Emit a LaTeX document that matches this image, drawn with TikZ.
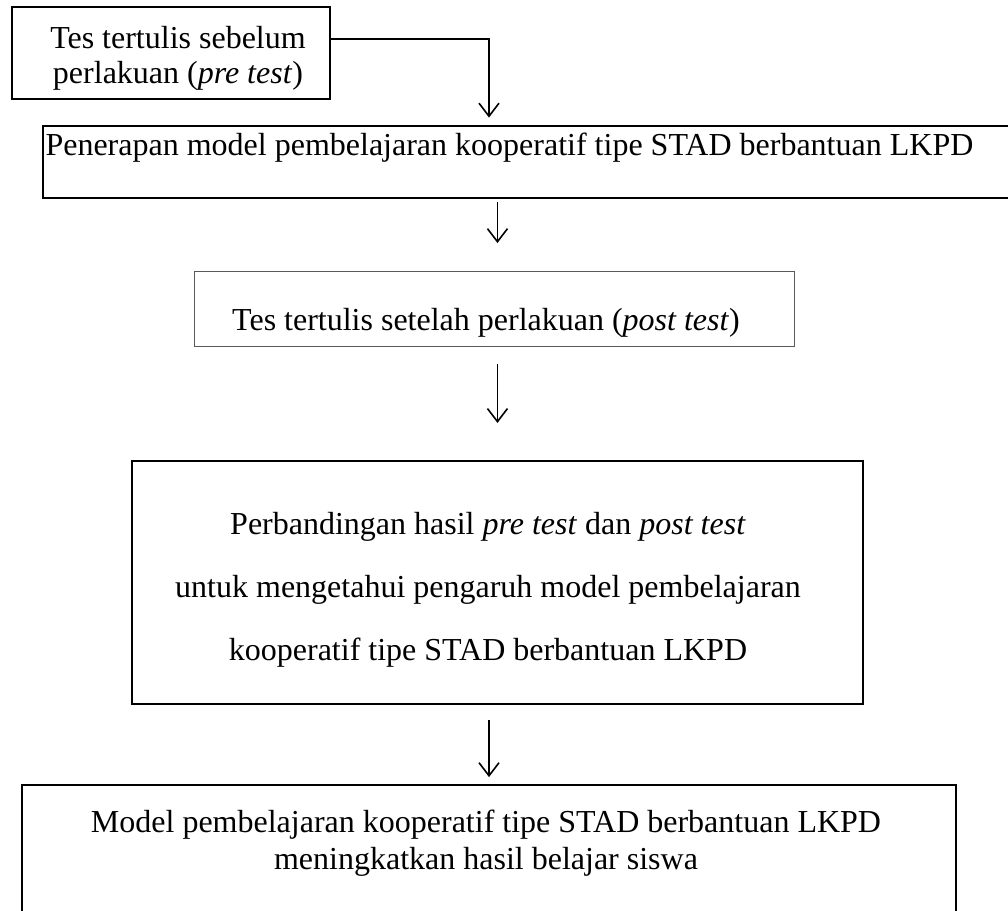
\documentclass[tikz,border=0pt]{standalone}
\usepackage{fontspec}
\setmainfont{Liberation Serif}
\usetikzlibrary{arrows.meta,positioning,calc}

\begin{document}
\begin{tikzpicture}[x=0.375pt,y=-0.375pt,
  box/.style={draw=black,line width=0.75pt,inner sep=0pt,anchor=north west},
  thinbox/.style={draw=black!65,line width=0.4pt,inner sep=0pt,anchor=north west},
  txt/.style={font=\fontsize{12}{13.1}\selectfont,align=center,inner sep=0pt},
  arr/.style={line width=0.6pt,-{Straight Barb[length=4.9pt,width=7.5pt]}}]

\fill[white] (0,0) rectangle (1008,910);
\useasboundingbox (0,0) rectangle (1008,910);

% ---------------- the five steps, top to bottom ----------------------------
\node[box,minimum width=119.25pt,minimum height=34.5pt] (pre) at (11,6) {};
\node[txt] (preTxt) at (178,58) {Tes tertulis sebelum\\perlakuan (\textit{pre test})};

\node[box,minimum width=363.75pt,minimum height=27.2pt] (apply) at (42,124.5) {};
\node[txt,anchor=west] (applyTxt) at (45,148)
  {Penerapan model pembelajaran kooperatif tipe STAD berbantuan LKPD};

\node[thinbox,minimum width=225pt,minimum height=28.3pt] (post) at (194,270.5) {};
\node[txt] (postTxt) at (486,323) {Tes tertulis setelah perlakuan (\textit{post test})};

\node[box,minimum width=274.1pt,minimum height=91.1pt] (cmp) at (131,460) {};
\node[txt,font=\fontsize{12}{23.6}\selectfont] (cmpTxt) at (488,590)
  {Perbandingan hasil \textit{pre test} dan \textit{post test}\\
   untuk mengetahui pengaruh model pembelajaran\\
   kooperatif tipe STAD berbantuan LKPD};

\node[box,minimum width=350.25pt,minimum height=49.1pt] (res) at (21,784) {};
\node[txt,font=\fontsize{12}{13.9}\selectfont] (resTxt) at (486,843)
  {Model pembelajaran kooperatif tipe STAD berbantuan LKPD\\
   meningkatkan hasil belajar siswa};

% ---------------- arrows between the steps ---------------------------------
\draw[arr,shorten >=2.6pt] ([yshift=-12.4pt]pre.north east) -| (apply.north -| res.north);
\draw[arr,shorten <=1.1pt,shorten >=10.3pt] (apply.south -| cmp.north) -- (post.north -| cmp.north);
\draw[arr,shorten <=6.4pt,shorten >=13.9pt] (post.south -| cmp.north) -- (cmp.north);
\draw[arr,shorten <=5.6pt,shorten >=2.6pt] (cmp.south -| res.north) -- (res.north);

\end{tikzpicture}
\end{document}
